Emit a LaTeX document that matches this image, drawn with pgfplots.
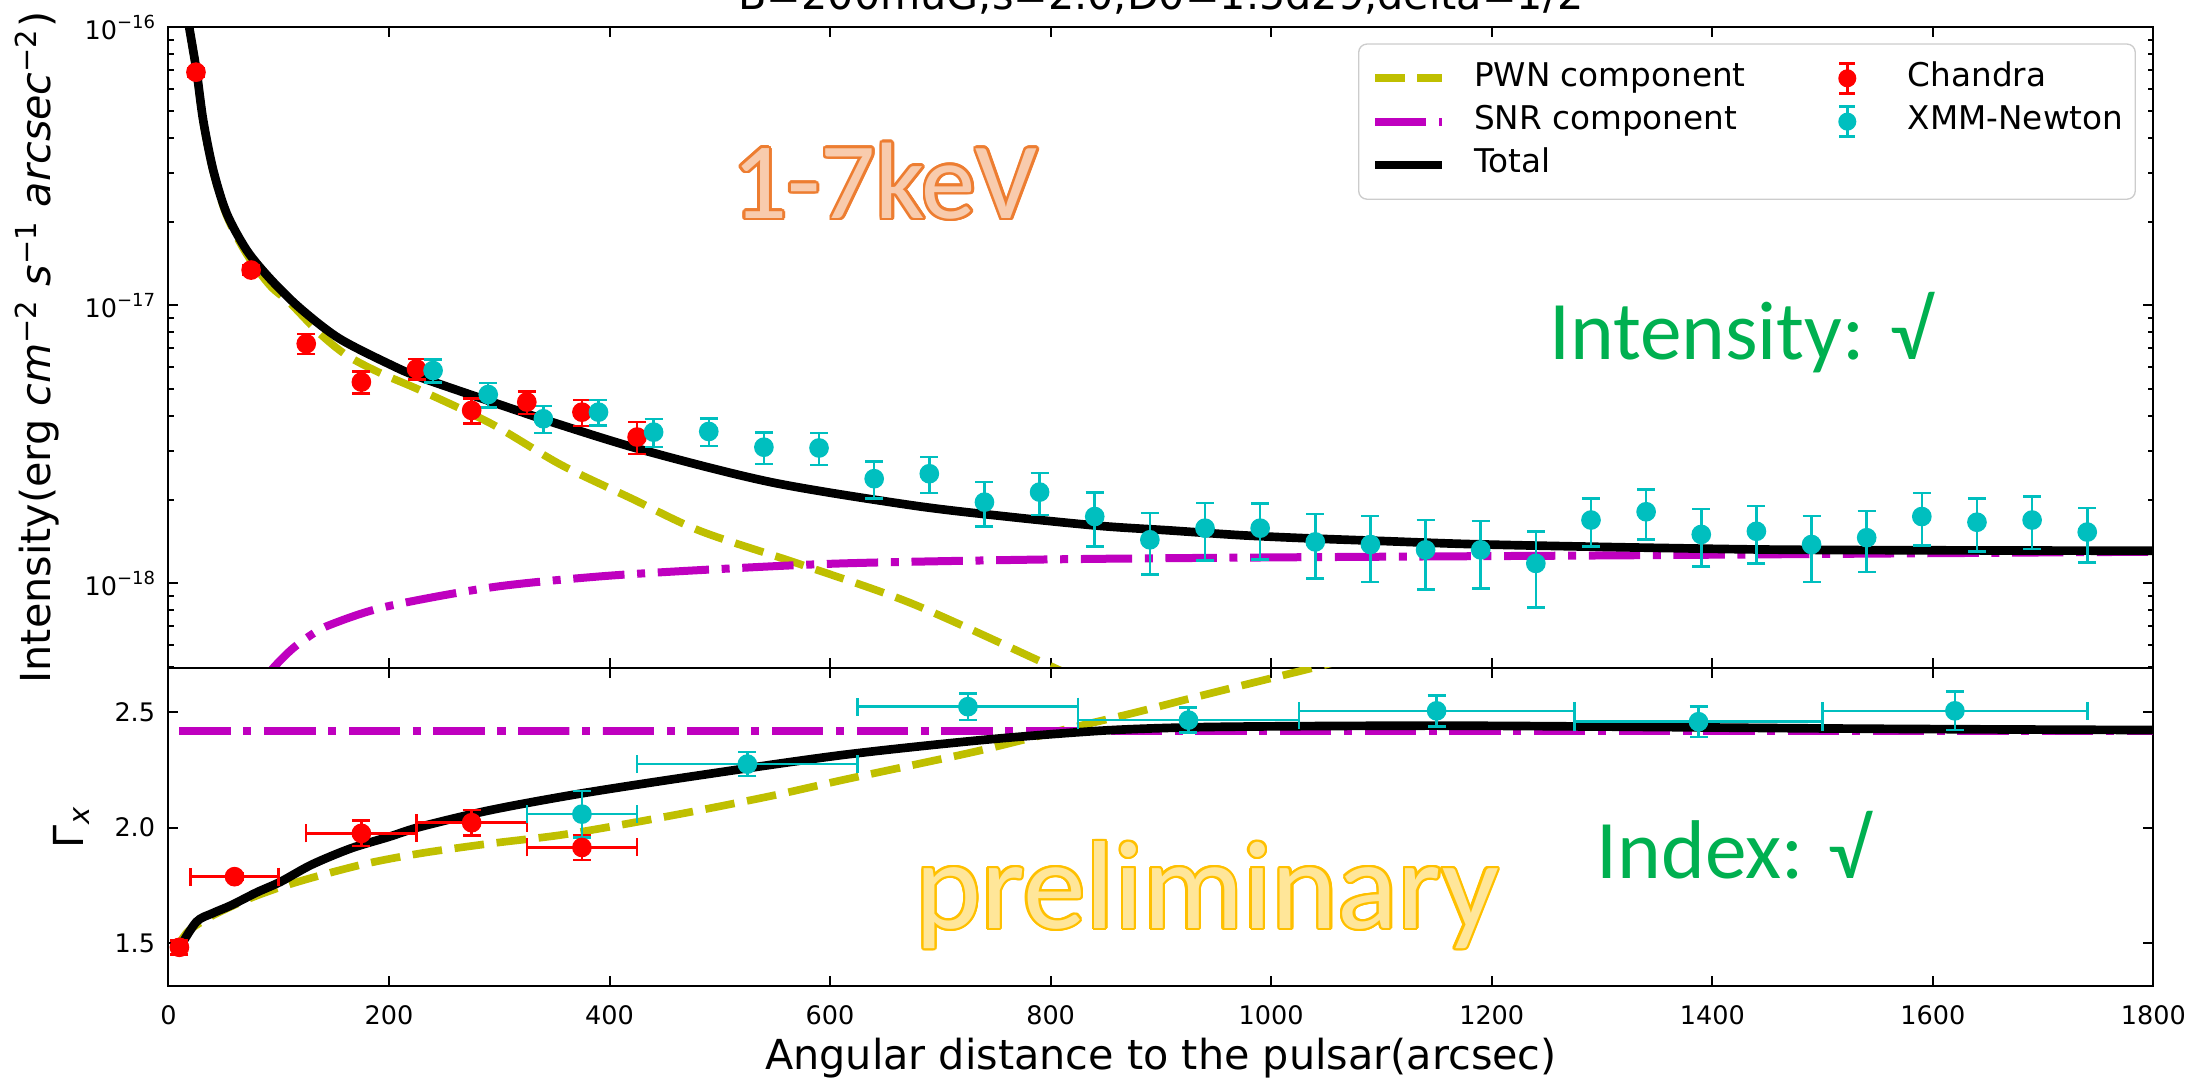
\documentclass[border=0pt]{standalone}
\usepackage{pgfplots}
\pgfplotsset{compat=1.18}
\usepackage{fontspec}
\setmainfont{DejaVu Sans}
\newfontfamily\carlito{Carlito}
\definecolor{mpred}{RGB}{255,0,0}
\definecolor{mpcyan}{RGB}{0,191,191}
\definecolor{mpyel}{RGB}{191,191,0}
\definecolor{mpmag}{RGB}{191,0,191}
\definecolor{orgline}{RGB}{237,125,49}
\definecolor{orgfill}{RGB}{248,203,173}
\definecolor{goldline}{RGB}{255,192,0}
\definecolor{goldfill}{RGB}{255,230,153}
\definecolor{offgreen}{RGB}{0,176,80}
\newcommand{\tickfont}{\fontsize{7.65}{9}\selectfont}
\newcommand{\labfont}{\fontsize{12.4}{14}\selectfont}
\newcommand{\sci}[1]{10\raisebox{0.42em}{\fontsize{5.4}{6}\selectfont −#1}}
\newcommand{\outlined}[6]{%
  \foreach \ang in {0,20,...,340}{
    \node[anchor=base west, inner sep=0pt, text=#3, font=#2, shift={(\ang:#6)}] at (#1) {#5};
  }
  \node[anchor=base west, inner sep=0pt, text=#4, font=#2] at (#1) {#5};
}
\pgfplotsset{
  myaxis/.style={
    scale only axis, width=595.5pt, xmin=0, xmax=1800,
    axis line style={line width=0.6pt, black},
    tick style={line width=0.6pt, black},
    major tick length=3pt, minor tick length=1.7pt,
    tick label style={font=\tickfont},
    xtick={0,200,400,600,800,1000,1200,1400,1600,1800},
    yticklabel style={anchor=east, inner sep=0pt, xshift=-3.8pt},
    xticklabel style={anchor=north, inner sep=0pt, yshift=-5.7pt},
  },
  chandra/.style={forget plot, only marks, mark=*, mark size=2.75pt, color=mpred,
    mark options={fill=mpred, draw=mpred},
    error bars/.cd, y dir=both, y explicit,
    error bar style={line width=0.75pt, mpred},
    error mark options={rotate=90, mpred, mark size=2.7pt, line width=0.75pt}},
  xmm/.style={forget plot, only marks, mark=*, mark size=2.75pt, color=mpcyan,
    mark options={fill=mpcyan, draw=mpcyan},
    error bars/.cd, y dir=both, y explicit,
    error bar style={line width=0.75pt, mpcyan},
    error mark options={rotate=90, mpcyan, mark size=2.7pt, line width=0.75pt}},
  chandraxy/.style={forget plot, only marks, mark=*, mark size=2.75pt, color=mpred,
    mark options={fill=mpred, draw=mpred},
    error bars/.cd, x dir=both, x explicit, y dir=both, y explicit,
    error bar style={line width=0.75pt, mpred},
    error mark options={rotate=90, mpred, mark size=2.7pt, line width=0.75pt}},
  xmmxy/.style={forget plot, only marks, mark=*, mark size=2.75pt, color=mpcyan,
    mark options={fill=mpcyan, draw=mpcyan},
    error bars/.cd, x dir=both, x explicit, y dir=both, y explicit,
    error bar style={line width=0.75pt, mpcyan},
    error mark options={rotate=90, mpcyan, mark size=2.7pt, line width=0.75pt}},
  pwn/.style={forget plot, mpyel, line width=2.3pt, dash pattern=on 8.9pt off 3.8pt, smooth, no markers},
  snr/.style={forget plot, mpmag, line width=2.4pt, dash pattern=on 15.4pt off 3.8pt on 2.4pt off 3.8pt, smooth, no markers},
  tot/.style={forget plot, black, line width=2.6pt, smooth, no markers},
}
\begin{document}
\begin{tikzpicture}
% ---------------- top panel: intensity ----------------
\begin{axis}[myaxis, at={(50.52pt,123pt)}, anchor=south west, height=192.2pt,
  ymode=log, ymin=4.96e-19, ymax=1e-16,
  ytick={1e-18,1e-17,1e-16}, yticklabels={\sci{18},\sci{17},\sci{16}},
  minor ytick={5e-19,6e-19,7e-19,8e-19,9e-19,2e-18,3e-18,4e-18,5e-18,6e-18,7e-18,8e-18,9e-18,2e-17,3e-17,4e-17,5e-17,6e-17,7e-17,8e-17,9e-17},
  xticklabels={},
  ylabel={Intensity(erg \textit{cm}\textsuperscript{−2} \textit{s}\textsuperscript{−1} \textit{arcsec}\textsuperscript{−2})},
  every axis y label/.style={at={(axis description cs:-0.0662,0.5)}, rotate=90, anchor=center, font=\labfont},
  legend columns=2, legend cell align=left,
  legend style={at={(0.9912,0.975)}, anchor=north east, draw=black!20, fill=white,
    rounded corners=2.5pt, font=\fontsize{9.8}{11.5}\selectfont,
    inner xsep=3.6pt, inner ysep=5.4pt, row sep=3.25pt,
    nodes={inner sep=0pt, text height=7.2pt, text depth=2.55pt},
    /tikz/every odd column/.append style={column sep=8.2pt},
    /tikz/every even column/.append style={column sep=20.5pt}},
]
\addlegendimage{legend image code/.code={\draw[mpyel, line width=2.3pt, dash pattern=on 8.9pt off 3.8pt] (0pt,0pt)--(20.2pt,0pt);}}
\addlegendentry{PWN component}
\addlegendimage{legend image code/.code={\path[draw=none, fill=none] (0pt,0pt)--(20pt,0pt);
  \draw[mpred, line width=0.75pt] (10pt,-4.5pt)--(10pt,4.5pt) (7.6pt,-4.5pt)--(12.4pt,-4.5pt) (7.6pt,4.5pt)--(12.4pt,4.5pt);
  \fill[mpred] (10pt,0pt) circle (2.5pt);}}
\addlegendentry{Chandra}
\addlegendimage{legend image code/.code={\draw[mpmag, line width=2.4pt, dash pattern=on 15.4pt off 3.8pt on 2.4pt off 3.8pt] (0pt,0pt)--(20.2pt,0pt);}}
\addlegendentry{SNR component}
\addlegendimage{legend image code/.code={\path[draw=none, fill=none] (0pt,0pt)--(20pt,0pt);
  \draw[mpcyan, line width=0.75pt] (10pt,-4.5pt)--(10pt,4.5pt) (7.6pt,-4.5pt)--(12.4pt,-4.5pt) (7.6pt,4.5pt)--(12.4pt,4.5pt);
  \fill[mpcyan] (10pt,0pt) circle (2.5pt);}}
\addlegendentry{XMM-Newton}
\addlegendimage{legend image code/.code={\draw[black, line width=2.6pt] (0pt,0pt)--(20.2pt,0pt);}}
\addlegendentry{Total}

\addplot[pwn] coordinates {(10,1.9e-16)(12,1.6e-16)(15,1.25e-16)(18.9,1.0e-16)(25.6,6.9e-17)(31.6,4.58e-17)(40.7,3.03e-17)(52.9,2.1e-17)(71,1.53e-17)(92,1.18e-17)(110,1.023e-17)(137,7.94e-18)(162,6.6e-18)(193,5.69e-18)(229,4.94e-18)(293,3.75e-18)(356,2.67e-18)(420,2.02e-18)(483,1.54e-18)(572,1.175e-18)(674,8.47e-19)(795,5.15e-19)(850,4.07e-19)};
\addplot[snr] coordinates {(85,4.4e-19)(95,4.96e-19)(111,5.75e-19)(127,6.43e-19)(146,7.08e-19)(197,8.24e-19)(293,9.68e-19)(388,1.057e-18)(483,1.117e-18)(611,1.18e-18)(801,1.22e-18)(1000,1.24e-18)(1295,1.26e-18)(1550,1.28e-18)(1800,1.30e-18)};
\addplot[tot] coordinates {(10,1.9e-16)(12,1.6e-16)(15,1.25e-16)(18.9,1.0e-16)(25.6,6.93e-17)(31.6,4.62e-17)(40.7,3.06e-17)(52.9,2.14e-17)(71,1.58e-17)(92,1.25e-17)(119,9.8e-18)(155,7.6e-18)(204,6.05e-18)(229,5.5e-18)(293,4.5e-18)(350,3.78e-18)(432.5,3.0e-18)(547,2.31e-18)(674,1.91e-18)(760,1.74e-18)(845,1.61e-18)(909,1.55e-18)(973,1.49e-18)(1038,1.45e-18)(1102,1.42e-18)(1166,1.39e-18)(1230,1.37e-18)(1359,1.34e-18)(1487,1.32e-18)(1800,1.31e-18)};

\addplot[chandra] coordinates {
(25,6.9e-17) +- (0,2.5e-18)
(75,1.34e-17) +- (0,0.5e-18)
(125,7.28e-18) +- (0,0.6e-18)
(175,5.3e-18) +- (0,0.48e-18)
(225,5.91e-18) +- (0,0.5e-18)
(275,4.19e-18) +- (0,0.43e-18)
(325,4.49e-18) +- (0,0.42e-18)
(375,4.13e-18) +- (0,0.44e-18)
(425,3.36e-18) +- (0,0.44e-18)
};
\addplot[xmm] coordinates {
(240,5.83e-18) +- (0,0.55e-18)
(290,4.78e-18) +- (0,0.48e-18)
(340,3.91e-18) +- (0,0.43e-18)
(390,4.13e-18) +- (0,0.43e-18)
(440,3.5e-18) +- (0,0.40e-18)
(490,3.52e-18) +- (0,0.40e-18)
(540,3.09e-18) +- (0,0.40e-18)
(590,3.07e-18) +- (0,0.40e-18)
(640,2.38e-18) +- (0,0.36e-18)
(690,2.48e-18) +- (0,0.37e-18)
(740,1.96e-18) +- (0,0.36e-18)
(790,2.13e-18) +- (0,0.37e-18)
(840,1.74e-18) +- (0,0.38e-18)
(890,1.435e-18) +- (0,0.36e-18)
(940,1.58e-18) +- (0,0.37e-18)
(990,1.58e-18) +- (0,0.36e-18)
(1040,1.41e-18) +- (0,0.37e-18)
(1090,1.38e-18) +- (0,0.37e-18)
(1140,1.32e-18) +- (0,0.37e-18)
(1190,1.32e-18) +- (0,0.36e-18)
(1240,1.18e-18) +- (0,0.36e-18)
(1290,1.69e-18) +- (0,0.33e-18)
(1340,1.81e-18) +- (0,0.37e-18)
(1390,1.50e-18) +- (0,0.35e-18)
(1440,1.54e-18) +- (0,0.36e-18)
(1490,1.38e-18) +- (0,0.37e-18)
(1540,1.46e-18) +- (0,0.36e-18)
(1590,1.74e-18) +- (0,0.37e-18)
(1640,1.66e-18) +- (0,0.36e-18)
(1690,1.69e-18) +- (0,0.36e-18)
(1740,1.53e-18) +- (0,0.34e-18)
};
\end{axis}
% ---------------- bottom panel: photon index ----------------
\begin{axis}[myaxis, at={(50.52pt,27.6pt)}, anchor=south west, height=95.4pt,
  ymin=1.316, ymax=2.689,
  ytick={1.5,2.0,2.5}, yticklabels={1.5,2.0,2.5},
  xticklabels={0,200,400,600,800,1000,1200,1400,1600,1800},
  ylabel={Γ\textsubscript{\textit{x}}},
  every axis y label/.style={at={(axis description cs:-0.0486,0.5)}, rotate=90, anchor=center, font=\labfont},
  xlabel={Angular distance to the pulsar(arcsec)},
  every axis x label/.style={at={(axis description cs:0.5,0)}, anchor=base, yshift=-25.2pt, font=\labfont},
]
\addplot[pwn] coordinates {(10,1.50)(19,1.557)(40,1.62)(70,1.687)(100,1.74)(133.6,1.788)(180,1.845)(229,1.889)(290,1.93)(356,1.968)(420,2.02)(483,2.076)(550,2.14)(611,2.205)(680,2.275)(738,2.335)(814,2.425)(877,2.497)(941,2.575)(1040,2.692)(1070,2.73)};
\addplot[snr] coordinates {(10,2.417)(1800,2.417)};
\addplot[tot] coordinates {(10,1.48)(25.4,1.593)(40,1.63)(57.2,1.665)(80,1.72)(101.7,1.766)(130,1.84)(165.4,1.910)(200,1.96)(229,2.004)(292.6,2.076)(375.3,2.148)(483.4,2.227)(610.6,2.313)(737.9,2.378)(844.8,2.418)(920,2.432)(1000,2.437)(1150,2.44)(1300,2.436)(1500,2.428)(1650,2.424)(1800,2.421)};
\addplot[chandraxy] coordinates {
(10,1.483) +- (0,0.03)
(60,1.788) +- (40,0.015)
(175,1.975) +- (50,0.055)
(275,2.021) +- (50,0.055)
(375,1.914) +- (50,0.055)
};
\addplot[xmmxy] coordinates {
(375,2.058) +- (50,0.1)
(525,2.274) +- (100,0.052)
(725,2.522) +- (100,0.057)
(925,2.464) +- (100,0.054)
(1150,2.504) +- (125,0.067)
(1387.5,2.457) +- (112.5,0.066)
(1620,2.504) +- (120,0.083)
};
\end{axis}
% ---------------- title and annotations ----------------
\node[anchor=base, inner sep=0pt, font=\labfont] at (348.3pt,320.4pt) {B=200muG,s=2.0,D0=1.5d29,delta=1/2};
\outlined{219.5pt,257.9pt}{\carlito\fontsize{32.6}{40}\selectfont}{orgline}{orgfill}{1-7keV}{0.8pt}
\node[anchor=base west, inner sep=0pt, text=offgreen, font=\carlito\fontsize{25}{30}\selectfont] at (464.5pt,215.4pt) {Intensity: √};
\node[anchor=base west, inner sep=0pt, text=offgreen, font=\carlito\fontsize{25}{30}\selectfont] at (478.8pt,59.9pt) {Index: √};
\outlined{274.4pt,44.9pt}{\carlito\fontsize{37.6}{46}\selectfont}{goldline}{goldfill}{preliminary}{0.7pt}
\pgfresetboundingbox
\useasboundingbox (0pt,0pt) rectangle (663.3pt,323.4pt);
\end{tikzpicture}
\end{document}
